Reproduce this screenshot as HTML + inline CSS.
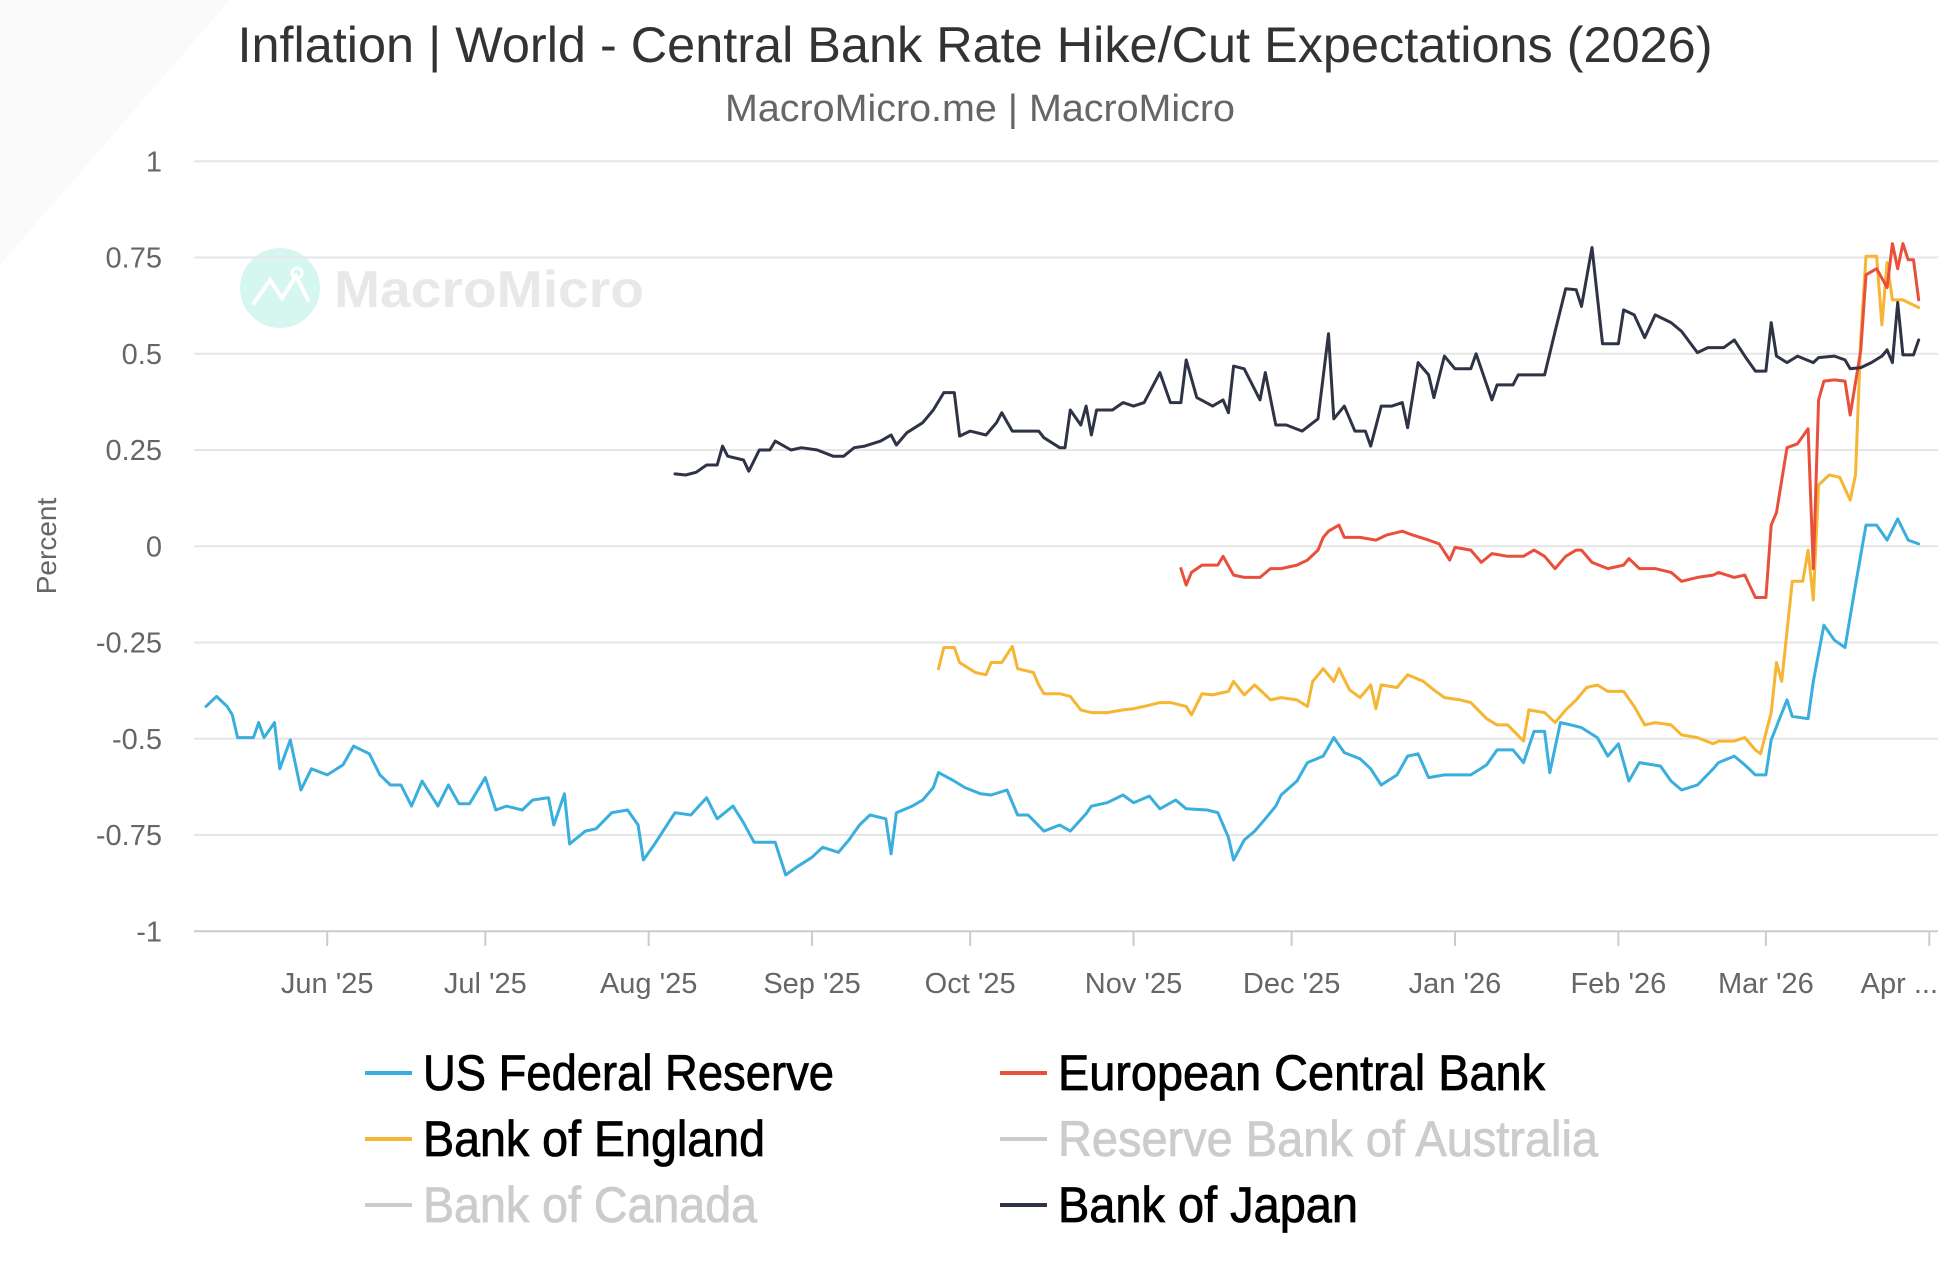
<!DOCTYPE html>
<html><head><meta charset="utf-8"><style>
html,body{margin:0;padding:0;background:#fff;}
svg{display:block;font-family:"Liberation Sans",sans-serif;}
</style></head><body>
<svg id="chart" width="1950" height="1270" viewBox="0 0 1950 1270">
  <polygon points="0,265 0,0 230,0" fill="#fafafa"/>
  <text x="975" y="62" text-anchor="middle" font-size="50" fill="#333" textLength="1475" lengthAdjust="spacingAndGlyphs">Inflation | World - Central Bank Rate Hike/Cut Expectations (2026)</text>
  <text x="980" y="121" text-anchor="middle" font-size="38" fill="#666" textLength="510" lengthAdjust="spacingAndGlyphs">MacroMicro.me | MacroMicro</text>
  <g>
    <circle cx="280" cy="288" r="40" fill="#d5f7ef"/>
    <polyline points="254,303 270,280 282,298 296,276 308,300" fill="none" stroke="#fff" stroke-width="4" stroke-linecap="round"/>
    <circle cx="297" cy="273" r="5" fill="none" stroke="#fff" stroke-width="3"/>
    <text x="334" y="307" font-size="52" font-weight="bold" fill="#e8e8e8" textLength="310" lengthAdjust="spacingAndGlyphs">MacroMicro</text>
  </g>
  <g id="grid"></g>
  <g id="yaxis"></g>
  <g id="xaxis"></g>
  <text transform="translate(56,546) rotate(-90)" text-anchor="middle" font-size="28" fill="#666">Percent</text>
  <g id="series"></g>
  <g id="legend"></g>
</svg>
<script>
// day 0 = 9 May 2025
const yTicks = [1, 0.75, 0.5, 0.25, 0, -0.25, -0.5, -0.75, -1];
const yTickLabels = ["1","0.75","0.5","0.25","0","-0.25","-0.5","-0.75","-1"];
const xTickDays = [23,53,84,115,145,176,206,237,268,296,327];
const xTickLabels = ["Jun '25","Jul '25","Aug '25","Sep '25","Oct '25","Nov '25","Dec '25","Jan '26","Feb '26","Mar '26","Apr ..."];

const fedDays = [0,2,4,5,6,9,10,11,13,14,16,18,20,23,26,28,31,33,35,37,39,41,44,46,48,50,53,55,57,60,62,65,66,68,69,72,74,77,80,82,83,85,87,89,92,95,97,100,102,104,108,110,112,115,117,120,122,124,126,129,130,131,134,136,138,139,142,144,147,149,152,154,156,159,162,164,167,168,171,174,176,179,181,184,186,190,192,194,195,197,199,201,203,204,207,209,212,214,216,219,221,223,226,228,230,232,235,237,240,243,245,248,250,252,254,255,257,259,261,264,266,268,270,272,276,278,280,283,286,287,290,292,294,296,297,300,301,304,305,307,309,311,313,315,317,319,321,323,325];
const fedVals = [-0.416,-0.390,-0.416,-0.438,-0.497,-0.497,-0.458,-0.497,-0.458,-0.578,-0.503,-0.633,-0.578,-0.594,-0.568,-0.519,-0.539,-0.594,-0.620,-0.620,-0.675,-0.610,-0.675,-0.620,-0.669,-0.669,-0.601,-0.685,-0.675,-0.685,-0.659,-0.653,-0.724,-0.643,-0.773,-0.740,-0.734,-0.692,-0.685,-0.724,-0.815,-0.776,-0.734,-0.692,-0.698,-0.653,-0.708,-0.675,-0.718,-0.769,-0.769,-0.854,-0.834,-0.808,-0.782,-0.795,-0.763,-0.724,-0.698,-0.708,-0.799,-0.692,-0.675,-0.659,-0.627,-0.588,-0.610,-0.627,-0.643,-0.646,-0.633,-0.698,-0.698,-0.740,-0.724,-0.740,-0.695,-0.675,-0.666,-0.646,-0.666,-0.649,-0.682,-0.659,-0.682,-0.685,-0.692,-0.756,-0.815,-0.763,-0.740,-0.708,-0.675,-0.646,-0.610,-0.562,-0.545,-0.497,-0.536,-0.552,-0.578,-0.620,-0.594,-0.545,-0.539,-0.601,-0.594,-0.594,-0.594,-0.568,-0.529,-0.529,-0.562,-0.481,-0.481,-0.588,-0.458,-0.464,-0.471,-0.497,-0.545,-0.513,-0.610,-0.562,-0.571,-0.610,-0.633,-0.620,-0.578,-0.562,-0.545,-0.568,-0.594,-0.594,-0.503,-0.399,-0.442,-0.448,-0.351,-0.205,-0.244,-0.263,-0.101,0.055,0.055,0.016,0.071,0.016,0.006];

const ecbDays = [185,186,187,189,192,193,195,197,200,202,204,207,209,211,212,213,215,216,219,222,224,227,229,232,234,236,237,240,242,244,247,250,252,254,256,258,260,261,263,266,269,270,272,275,278,280,283,286,287,290,292,294,296,297,298,300,302,304,305,306,307,309,311,312,314,315,317,319,320,321,322,323,324,325];
const ecbVals = [-0.058,-0.101,-0.068,-0.049,-0.049,-0.026,-0.075,-0.081,-0.081,-0.058,-0.058,-0.049,-0.036,-0.010,0.023,0.039,0.055,0.023,0.023,0.016,0.029,0.039,0.029,0.016,0.006,-0.036,-0.003,-0.010,-0.042,-0.019,-0.026,-0.026,-0.010,-0.026,-0.058,-0.026,-0.010,-0.010,-0.042,-0.058,-0.049,-0.032,-0.058,-0.058,-0.068,-0.091,-0.081,-0.075,-0.068,-0.081,-0.075,-0.133,-0.133,0.055,0.088,0.256,0.266,0.305,-0.058,0.380,0.429,0.432,0.429,0.341,0.510,0.705,0.721,0.672,0.786,0.721,0.786,0.744,0.744,0.640];

const boeDays = [139,140,142,143,146,148,149,151,153,154,157,158,159,162,164,166,168,171,174,176,178,181,183,186,187,189,191,194,195,197,199,202,204,207,209,210,212,214,215,217,219,221,222,223,226,228,231,233,235,238,240,243,245,247,250,251,254,256,258,260,262,264,266,269,271,273,275,278,280,283,286,287,290,292,294,295,297,298,299,301,303,304,305,306,308,310,312,313,314,315,317,318,319,320,322,323,325];
const boeVals = [-0.318,-0.263,-0.263,-0.302,-0.328,-0.334,-0.302,-0.302,-0.260,-0.318,-0.328,-0.360,-0.383,-0.383,-0.390,-0.425,-0.432,-0.432,-0.425,-0.422,-0.416,-0.406,-0.406,-0.416,-0.438,-0.383,-0.386,-0.377,-0.351,-0.386,-0.360,-0.399,-0.393,-0.399,-0.416,-0.351,-0.318,-0.351,-0.318,-0.373,-0.393,-0.360,-0.422,-0.360,-0.367,-0.334,-0.351,-0.373,-0.393,-0.399,-0.406,-0.448,-0.464,-0.464,-0.506,-0.425,-0.432,-0.458,-0.425,-0.399,-0.367,-0.360,-0.377,-0.377,-0.416,-0.464,-0.458,-0.464,-0.490,-0.497,-0.513,-0.506,-0.506,-0.497,-0.529,-0.539,-0.432,-0.302,-0.351,-0.091,-0.091,-0.010,-0.140,0.159,0.185,0.179,0.120,0.185,0.542,0.753,0.753,0.575,0.737,0.640,0.640,0.633,0.620];

const bojDays = [89,91,93,95,97,98,99,102,103,105,107,108,111,113,116,119,121,123,125,128,130,131,133,136,138,140,142,143,145,148,150,151,153,156,158,159,162,163,164,166,167,168,169,172,174,176,178,181,183,185,186,188,191,193,194,195,197,200,201,203,205,208,211,213,214,216,218,220,221,223,225,227,228,230,232,233,235,237,240,241,244,245,248,249,251,254,256,258,260,261,263,265,268,269,271,273,275,278,280,283,285,288,290,292,294,296,297,298,300,302,305,306,309,311,312,314,316,318,319,320,321,322,324,325];
const bojVals = [0.188,0.185,0.192,0.211,0.211,0.260,0.234,0.224,0.195,0.250,0.250,0.273,0.250,0.256,0.250,0.234,0.234,0.256,0.260,0.273,0.289,0.263,0.295,0.321,0.354,0.399,0.399,0.286,0.299,0.289,0.321,0.347,0.299,0.299,0.299,0.282,0.256,0.256,0.354,0.315,0.364,0.289,0.354,0.354,0.373,0.364,0.373,0.451,0.373,0.373,0.484,0.386,0.364,0.380,0.347,0.468,0.461,0.380,0.451,0.315,0.315,0.299,0.331,0.552,0.331,0.364,0.299,0.299,0.260,0.364,0.364,0.373,0.308,0.477,0.445,0.386,0.494,0.461,0.461,0.500,0.380,0.419,0.419,0.445,0.445,0.445,0.558,0.669,0.666,0.623,0.776,0.526,0.526,0.614,0.601,0.542,0.601,0.581,0.558,0.503,0.516,0.516,0.536,0.494,0.455,0.455,0.581,0.494,0.477,0.494,0.477,0.490,0.494,0.484,0.461,0.464,0.477,0.494,0.510,0.477,0.633,0.497,0.497,0.536];

const NS = "http://www.w3.org/2000/svg";
const X0 = 206, DX = 5.27, Y0 = 546.25, DY = 385;
function xScale(d){ return X0 + d * DX; }
function yScale(v){ return Y0 - v * DY; }
function mk(tag, attrs, parent){ const e = document.createElementNS(NS, tag); for (const k in attrs) e.setAttribute(k, attrs[k]); parent.appendChild(e); return e; }

const grid = document.getElementById('grid');
const yaxis = document.getElementById('yaxis');
yTicks.forEach((t, i) => {
  const y = yScale(t);
  const ln = mk('line', {x1:194, x2:1938, y1:y, y2:y, stroke: i === yTicks.length-1 ? '#cccccc' : '#e6e6e6', 'stroke-width':2}, grid);
  
  
  const tx = mk('text', {x:162, y:y+10, 'text-anchor':'end', 'font-size':29, fill:'#666'}, yaxis);
  tx.textContent = yTickLabels[i];
  
  
});
const xaxis = document.getElementById('xaxis');
xTickDays.forEach((d, i) => {
  const x = xScale(d);
  const tk = mk('line', {x1:x, x2:x, y1:931, y2:946, stroke:'#cccccc', 'stroke-width':2}, xaxis);
  
  
  const last = i === xTickDays.length - 1;
  const tx = mk('text', {x: last ? 1938 : x, y:993, 'text-anchor': last ? 'end' : 'middle', 'font-size':29, fill:'#666'}, xaxis);
  tx.textContent = xTickLabels[i];
  
  
});

const seriesG = document.getElementById('series');
function drawSeries(days, vals, color, name){
  const pts = days.map((d, i) => xScale(d).toFixed(1) + ',' + yScale(vals[i]).toFixed(1)).join(' ');
  const pl = mk('polyline', {points:pts, fill:'none', stroke:color, 'stroke-width':3, 'stroke-linejoin':'round', 'stroke-linecap':'round'}, seriesG);
  
  
}
drawSeries(fedDays, fedVals, '#3aaedc', 'us-federal-reserve-line');
drawSeries(boeDays, boeVals, '#f6b532', 'bank-of-england-line');
drawSeries(ecbDays, ecbVals, '#e9503b', 'european-central-bank-line');
drawSeries(bojDays, bojVals, '#2e3345', 'bank-of-japan-line');

const legend = document.getElementById('legend');
const legendItems = [
  {label:'US Federal Reserve', color:'#3aaedc', on:true, col:0, row:0, w:411},
  {label:'European Central Bank', color:'#e9503b', on:true, col:1, row:0, w:487},
  {label:'Bank of England', color:'#f6b532', on:true, col:0, row:1, w:342},
  {label:'Reserve Bank of Australia', color:'#cccccc', on:false, col:1, row:1, w:540},
  {label:'Bank of Canada', color:'#cccccc', on:false, col:0, row:2, w:334},
  {label:'Bank of Japan', color:'#2e3345', on:true, col:1, row:2, w:300}
];
const rowY = [1090, 1156, 1222];
legendItems.forEach(it => {
  const lx = it.col === 0 ? 365 : 1000;
  const y = rowY[it.row];
  const g = mk('g', {}, legend);
  
  
  mk('line', {x1:lx, x2:lx+47, y1:y-17, y2:y-17, stroke:it.color, 'stroke-width':4}, g);
  const t = mk('text', {x:lx+58, y:y, 'font-size':50, fill: it.on ? '#000' : '#cccccc', stroke: it.on ? '#000' : '#cccccc', 'stroke-width':0.8, textLength:it.w, lengthAdjust:'spacingAndGlyphs'}, g);
  t.textContent = it.label;
});
</script>
</body></html>
